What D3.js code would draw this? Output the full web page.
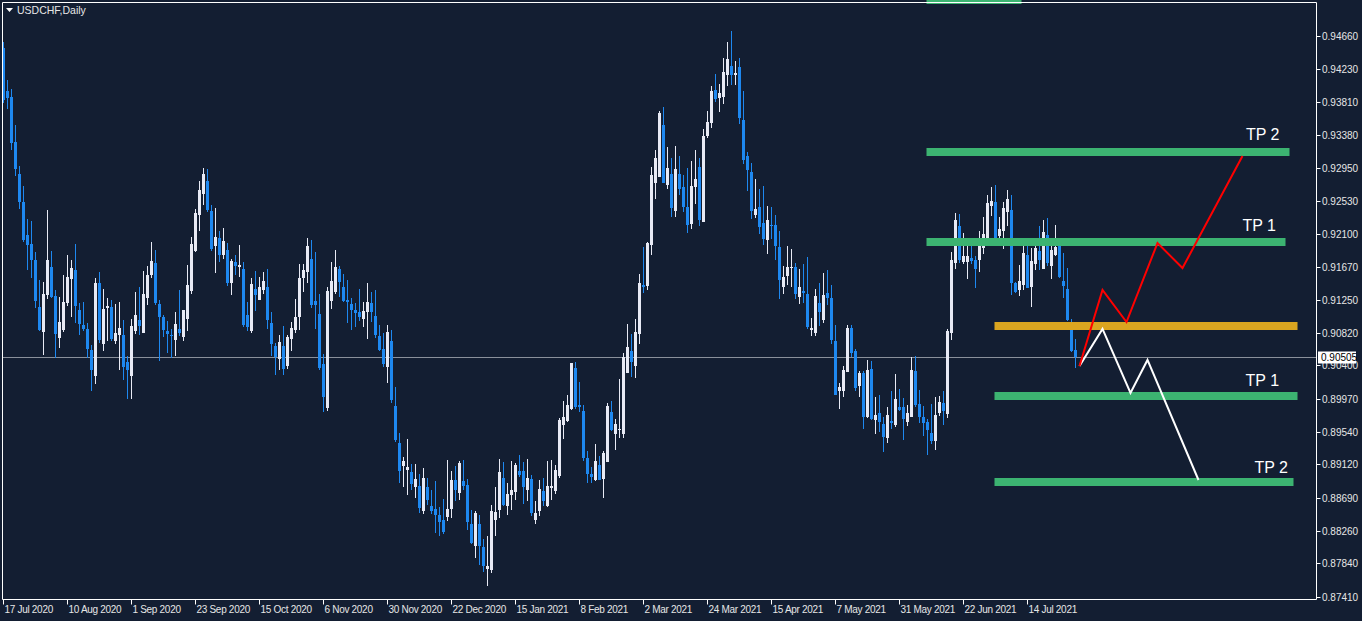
<!DOCTYPE html>
<html><head><meta charset="utf-8">
<script src="https://cdn.jsdelivr.net/npm/d3@7/dist/d3.min.js"></script>
<style>html,body{margin:0;padding:0;background:#131e32;overflow:hidden}svg{display:block}</style>
</head><body><svg id="c" width="1362" height="621"></svg>
<script>
const symbolTitle = "USDCHF,Daily";
const dateLabels = ["17 Jul 2020","10 Aug 2020","1 Sep 2020","23 Sep 2020","15 Oct 2020","6 Nov 2020","30 Nov 2020","22 Dec 2020","15 Jan 2021","8 Feb 2021","2 Mar 2021","24 Mar 2021","15 Apr 2021","7 May 2021","31 May 2021","22 Jun 2021","14 Jul 2021"];
const dateLabelBars = [0,16,32,48,64,80,96,112,128,144,160,176,192,208,224,240,256];
const priceTicks = [0.94660,0.94230,0.93810,0.93380,0.92950,0.92530,0.92100,0.91670,0.91250,0.90820,0.90400,0.89970,0.89540,0.89120,0.88690,0.88260,0.87840,0.87410];
const lastPrice = 0.90505;

const opens = [.94505,.93949,.93872,.93289,.92875,.92514,.92087,.91970,.91764,.91156,.90833,.91311,.91673,.91298,.90756,.90859,.91208,.91518,.91634,.91117,
.90923,.90872,.90600,.90263,.91466,.90677,.91143,.91156,.90716,.90794,.90794,.90445,.90263,.90846,.90988,.90820,.91273,.91569,.91725,.91195,
.91027,.90846,.90794,.90729,.90872,.90768,.91001,.91363,.91880,.92345,.92617,.92785,.92397,.91945,.92048,.91828,.91893,.91466,.91738,.91673,
.91647,.91052,.90846,.91389,.91247,.91376,.91415,.90949,.90652,.90484,.90652,.90393,.90742,.90859,.91027,.91531,.91608,.91777,.91234,.91065,
.90419,.89851,.91234,.91350,.91647,.91415,.91247,.91195,.91117,.91091,.91001,.91091,.91208,.91040,.90781,.90613,.90380,.90716,.89876,.89397,
.89100,.89048,.89022,.88828,.88841,.88518,.88828,.88583,.88544,.88467,.88402,.88441,.88544,.88919,.88751,.88906,.88854,.88350,.88066,.88350,
.88053,.87768,.87755,.88402,.88531,.88945,.88583,.88725,.88764,.89036,.89036,.88790,.88932,.88402,.88518,.88777,.88583,.88816,.88777,.88971,
.89630,.89682,.89837,.90367,.89889,.89811,.89204,.88997,.88919,.89113,.88932,.89152,.89798,.89514,.89566,.89514,.90302,.90587,.90393,.90807,
.91440,.91427,.91957,.92759,.92837,.93509,.92733,.92875,.92397,.92875,.92707,.92449,.92229,.92707,.92966,.92255,.93367,.93535,.93962,.93859,
.93872,.94155,.94272,.94155,.94259,.93574,.93108,.92901,.92345,.92449,.92242,.92022,.92216,.92216,.91932,.91415,.91557,.91660,.91673,.91286,
.91363,.91324,.90859,.90820,.91208,.90988,.91337,.91273,.90716,.90070,.90070,.90315,.90885,.90587,.90134,.90302,.89733,.90354,.89695,.89785,
.89643,.89462,.89682,.89630,.89863,.89863,.89669,.89733,.90328,.89902,.89733,.89669,.89527,.89423,.89785,.89915,.89772,.90820,.91725,.92203,
.91738,.91738,.91789,.91764,.91764,.91919,.92022,.92462,.92514,.92074,.92139,.92384,.92410,.91466,.91376,.91440,.91828,.91415,.91712,.91880,
.91647,.92087,.91686,.91828,.91957,.91492,.91389,.90949,.90600];
const highs = [.94582,.94091,.93975,.93509,.92979,.92720,.92294,.92268,.91867,.91505,.91479,.92410,.91880,.91376,.91286,.91569,.91828,.91764,.91970,.91208,
.91221,.90949,.90665,.91531,.91608,.91389,.91273,.91247,.91195,.91221,.90988,.90522,.91001,.91350,.91415,.91621,.91686,.91996,.91893,.91247,
.91052,.90975,.90872,.91091,.91376,.91117,.91699,.92061,.92424,.92785,.92953,.92940,.92475,.92437,.92139,.92177,.91983,.91777,.91828,.91957,
.91738,.91221,.91531,.91621,.91544,.91608,.91647,.91091,.90690,.90794,.90910,.90794,.90962,.91260,.91712,.91712,.92048,.92022,.91867,.91324,
.90548,.91415,.91738,.91893,.91686,.91582,.91505,.91273,.91208,.91389,.91221,.91466,.91350,.91376,.90923,.90820,.90923,.90859,.90121,.89527,
.89217,.89449,.89126,.89126,.88996,.89074,.88945,.88790,.88906,.88570,.88674,.89178,.89035,.89100,.89165,.89178,.88932,.88531,.88518,.88467,
.88156,.88195,.88596,.88828,.89191,.89152,.88880,.89165,.89139,.89242,.89152,.89191,.88984,.88648,.88919,.88945,.89165,.89178,.89113,.89721,
.89941,.90018,.90432,.90445,.90186,.89889,.89294,.89087,.89385,.89230,.89294,.89915,.89941,.89708,.90225,.90561,.90936,.90807,.91001,.91582,
.91932,.91996,.92966,.93186,.93690,.93742,.93224,.93083,.93237,.93108,.92862,.92953,.93044,.93186,.93083,.93458,.93690,.94013,.94168,.94039,
.94376,.94582,.94725,.94337,.94376,.93949,.93160,.93018,.92811,.92682,.92720,.92462,.92449,.92345,.92139,.91686,.91945,.91906,.91725,.91647,
.91712,.91802,.91014,.91389,.91466,.91595,.91634,.91440,.90923,.90173,.90393,.90923,.90923,.90613,.90328,.90328,.90471,.90458,.89993,.90018,
.89733,.89863,.90070,.90289,.90096,.89980,.89889,.90509,.90522,.90083,.89876,.89708,.89902,.89993,.90005,.90070,.90872,.91867,.92371,.92358,
.92113,.91983,.91983,.91815,.92139,.92319,.92604,.92707,.92733,.92319,.92514,.92669,.92604,.91479,.91699,.91996,.91970,.91919,.92022,.92203,
.92281,.92307,.91996,.92216,.92009,.91854,.91660,.91001,.90742];
const lows = [.93794,.93717,.93186,.92849,.92424,.91996,.91634,.91531,.91144,.90846,.90535,.91260,.91273,.90497,.90626,.90833,.91169,.91026,.90949,.90794,
.90846,.90497,.90070,.90160,.90690,.90587,.90716,.90716,.90677,.90341,.90212,.89967,.89967,.90807,.90794,.90820,.91182,.91531,.91182,.90458,
.90768,.90561,.90497,.90522,.90781,.90716,.90846,.91324,.91867,.92139,.92475,.92384,.91880,.91595,.91738,.91777,.91427,.91311,.91569,.91544,
.90897,.90846,.90820,.91104,.91247,.91324,.90872,.90522,.90276,.90341,.90276,.90354,.90587,.90820,.90859,.91350,.91466,.91143,.90872,.90341,
.89798,.89811,.91130,.91324,.91286,.91221,.90949,.90859,.90897,.90975,.90897,.90742,.90962,.90755,.90587,.90380,.90173,.89915,.89410,.88880,
.88828,.88725,.88790,.88687,.88492,.88479,.88596,.88479,.88234,.88195,.88221,.88389,.88428,.88648,.88661,.88790,.88273,.88091,.87911,.87820,
.87729,.87548,.87716,.88195,.88428,.88583,.88467,.88531,.88661,.88957,.88609,.88648,.88454,.88350,.88454,.88583,.88570,.88661,.88738,.88945,
.89449,.89669,.89824,.89837,.89798,.89165,.88880,.88880,.88906,.88919,.88687,.89152,.89553,.89307,.89462,.89462,.90302,.90250,.90238,.90677,
.91337,.91376,.91828,.92553,.92837,.92759,.92682,.92319,.92319,.92604,.92384,.92113,.92164,.92488,.92203,.92255,.93341,.93470,.93807,.93677,
.93781,.94013,.94026,.94026,.93522,.93005,.92656,.92294,.92307,.92100,.91957,.91841,.92035,.91764,.91260,.91324,.91440,.91415,.91260,.91195,
.91208,.90872,.90781,.90781,.90910,.90949,.91182,.90677,.90018,.89837,.89993,.90315,.90509,.90070,.89993,.89579,.89721,.89695,.89514,.89540,
.89281,.89398,.89579,.89604,.89811,.89436,.89617,.89733,.89863,.89656,.89488,.89242,.89385,.89307,.89746,.89630,.89721,.90729,.91647,.91725,
.91712,.91518,.91712,.91402,.91608,.91841,.91983,.92332,.91996,.91983,.91906,.92203,.91311,.91337,.91298,.91376,.91402,.91156,.91634,.91634,
.91647,.91686,.91518,.91815,.91531,.91273,.90975,.90574,.90367];
const closes = [.93833,.93859,.93276,.92941,.92514,.92022,.91957,.91764,.91234,.90859,.91324,.91764,.91286,.90807,.90962,.91221,.91544,.91660,.91169,.90936,
.90872,.90613,.90341,.91466,.90729,.91130,.91169,.90742,.90820,.90885,.90380,.90341,.90910,.91052,.90910,.91324,.91569,.91751,.91208,.91027,
.90859,.90807,.90781,.90936,.90820,.91117,.91440,.91970,.92371,.92669,.92875,.92410,.91906,.92061,.91828,.92009,.91466,.91751,.91686,.91699,
.90923,.90897,.91453,.91311,.91415,.91492,.90988,.90677,.90509,.90703,.90354,.90768,.90885,.91027,.91531,.91634,.91945,.91182,.91182,.90367,
.89993,.91363,.91492,.91673,.91479,.91234,.91221,.91117,.91079,.91027,.91104,.91221,.91091,.90794,.90600,.90419,.90833,.89954,.89436,.89035,
.89165,.89087,.88867,.88932,.88557,.88945,.88661,.88518,.88466,.88376,.88247,.88544,.88919,.88790,.89139,.88841,.88376,.88104,.88492,.88066,
.87807,.87807,.88518,.88505,.89023,.88596,.88738,.88790,.89113,.88983,.88828,.88945,.88492,.88492,.88803,.88648,.88841,.88841,.89048,.89695,
.89734,.89889,.90432,.89863,.89863,.89204,.88997,.88957,.89165,.88919,.89268,.89876,.89566,.89643,.89579,.90509,.90638,.90445,.90833,.91466,
.91415,.91983,.92862,.93083,.93664,.92759,.92953,.92437,.92941,.92682,.92449,.92216,.92720,.92811,.92281,.93367,.93548,.93949,.93846,.93923,
.94194,.94363,.94155,.94181,.93600,.93057,.92927,.92397,.92424,.92190,.92035,.92281,.92203,.91945,.91505,.91544,.91673,.91673,.91324,.91415,
.91337,.90897,.90885,.91298,.91091,.91311,.91273,.90729,.90018,.90121,.90341,.90885,.90561,.90109,.90302,.89733,.90341,.89708,.89759,.89669,
.89475,.89759,.89656,.89967,.89824,.89708,.89785,.90341,.89889,.89733,.89656,.89566,.89423,.89759,.89928,.89811,.90846,.91764,.92281,.91764,
.91815,.91815,.91751,.91647,.91970,.92100,.92501,.92527,.92022,.92164,.92437,.92553,.91466,.91350,.91492,.91854,.91402,.91751,.91919,.91764,
.92126,.91725,.91893,.91932,.91544,.91427,.90988,.90587,.90505];

// Drawn analysis objects (bar index / price)
const levelKinds  = ["target","target","target","entry","target","target"];
const levelPrices = [0.95126, 0.93160, 0.91996, 0.90911, 0.90005, 0.88893];
const levelFrom   = [230.75, 230.75, 230.75, 247.75, 247.75, 247.75];
const levelTo     = [254.5, 321.5, 320.5, 323.5, 323.5, 322.5];
const labelTexts  = ["TP 2","TP 1","TP 1","TP 2"];
const labelBars   = [319, 318.1, 318.9, 321.1];
const labelPrices = [0.93315, 0.92139, 0.90134, 0.89010];
const bullPathBars   = [269, 274.75, 280.75, 288.5, 294.75, 309.75];
const bullPathPrices = [0.90393, 0.91376, 0.90962, 0.91983, 0.91660, 0.93108];
const bearPathBars   = [269, 274.75, 281.75, 286, 298.75];
const bearPathPrices = [0.90393, 0.90872, 0.90044, 0.90471, 0.88919];

const svg = d3.select("#c");
const BG = "#131e32", BULL = "#e8eaf5", BEAR = "#1e88f0", FG = "#ffffff";
const font = "'Liberation Sans', Arial, sans-serif";
svg.append("rect").attr("width",1362).attr("height",621).attr("fill",BG);

const x = d3.scaleLinear().domain([0, 328]).range([3.5, 1315.5]);
const y = d3.scaleLinear().domain([0.87410, 0.94660]).range([596.7, 36]);

const plotL = 2, plotT = 2, plotR = 1316, plotB = 599.5;

// price line
svg.append("line").attr("x1",plotL+1).attr("x2",plotR).attr("y1",Math.round(y(lastPrice))+0.5).attr("y2",Math.round(y(lastPrice))+0.5)
  .attr("stroke","#8a909b").attr("stroke-width",1);

// candles
const candles = opens.map((o,i)=>({i,o,h:highs[i],l:lows[i],c:closes[i]}));
const g = svg.append("g");
candles.forEach(d=>{
  const cx = Math.floor(x(d.i));
  const col = d.c >= d.o ? BULL : BEAR;
  const yh = Math.round(y(d.h)), yl = Math.round(y(d.l));
  g.append("rect").attr("x",cx).attr("width",1).attr("y",yh).attr("height",Math.max(1,yl-yh)).attr("fill",col);
  const yt = Math.round(y(Math.max(d.o,d.c))), yb = Math.round(y(Math.min(d.o,d.c)));
  g.append("rect").attr("x",cx-1).attr("width",3).attr("y",yt).attr("height",Math.max(1,yb-yt)).attr("fill",col);
});

// levels
const levelColor = k => k==="entry" ? "#daa520" : "#3cb371";
levelPrices.forEach((p,k)=>{
  svg.append("line").attr("x1",x(levelFrom[k])).attr("x2",x(levelTo[k]))
    .attr("y1",y(p)).attr("y2",y(p)).attr("stroke",levelColor(levelKinds[k])).attr("stroke-width",8);
});

// projection paths
const line = d3.line().x(d=>x(d[0])).y(d=>y(d[1]));
svg.append("path").attr("d",line(bearPathBars.map((b,k)=>[b,bearPathPrices[k]])))
  .attr("fill","none").attr("stroke","#ffffff").attr("stroke-width",2);
svg.append("path").attr("d",line(bullPathBars.map((b,k)=>[b,bullPathPrices[k]])))
  .attr("fill","none").attr("stroke","#ff0000").attr("stroke-width",2);

labelTexts.forEach((t,k)=>{
  svg.append("text").attr("x",x(labelBars[k])).attr("y",y(labelPrices[k])).attr("text-anchor","end")
    .attr("font-family",font).attr("font-size",16).attr("fill",FG).text(t);
});

// frame
svg.append("path").attr("d",`M${plotL+0.5},${plotB}V${plotT+0.5}H${plotR+0.5}V${plotB}H${plotL+0.5}`)
  .attr("fill","none").attr("stroke",FG).attr("stroke-width",1);

// right axis
const ra = svg.append("g");
priceTicks.forEach(p=>{
  const yy = Math.round(y(p))+0.5;
  ra.append("line").attr("x1",plotR+0.5).attr("x2",plotR+4.5).attr("y1",yy).attr("y2",yy).attr("stroke",FG);
  ra.append("text").attr("x",plotR+6).attr("y",yy+3.5).attr("font-family",font).attr("font-size",10).attr("fill","#e6e6e6")
    .text(d3.format(".5f")(p));
});
// last price tag
const ly = Math.round(y(lastPrice));
ra.append("rect").attr("x",plotR+2).attr("y",ly-5.5).attr("width",38).attr("height",12).attr("fill","#ffffff");
ra.append("text").attr("x",plotR+5).attr("y",ly+4).attr("font-family",font).attr("font-size",10).attr("fill","#000").text(d3.format(".5f")(lastPrice));

// bottom axis
const ba = svg.append("g");
dateLabelBars.forEach((b,k)=>{
  const xx = Math.floor(x(b))+0.5;
  ba.append("line").attr("x1",xx).attr("x2",xx).attr("y1",plotB).attr("y2",plotB+5).attr("stroke",FG);
  ba.append("text").attr("x",xx+1).attr("y",plotB+13).attr("font-family",font).attr("font-size",10)
    .attr("letter-spacing","-0.3").attr("fill","#e6e6e6").text(dateLabels[k]);
});

// title
svg.append("path").attr("d","M6,8H13L9.5,12Z").attr("fill",FG);
svg.append("text").attr("x",17).attr("y",14).attr("font-family",font).attr("font-size",10.5).attr("fill","#e6e6e6").text(symbolTitle);
</script>
</body></html>
